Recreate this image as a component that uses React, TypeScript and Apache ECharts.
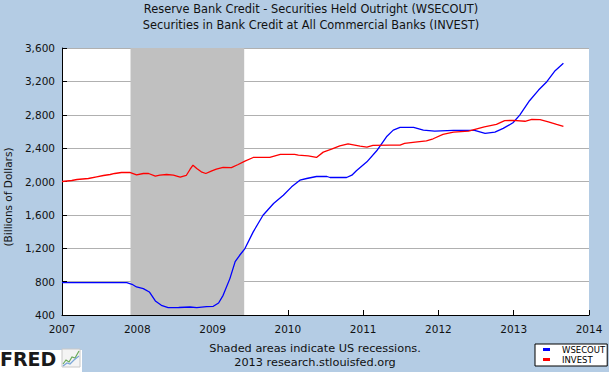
import React, { useEffect, useRef } from "react";
import * as echarts from "echarts";

// Decimal-year dates and values (Billions of Dollars)
const wsecoutDates = [
  2007.0, 2007.86, 2007.93, 2007.99, 2008.08, 2008.16, 2008.24, 2008.32, 2008.41, 2008.55,
  2008.7, 2008.79, 2008.92, 2009.01, 2009.08, 2009.14, 2009.23, 2009.3, 2009.36, 2009.43,
  2009.54, 2009.67, 2009.81, 2009.94, 2010.05, 2010.16, 2010.25, 2010.38, 2010.52, 2010.56,
  2010.78, 2010.85, 2010.91, 2011.05, 2011.18, 2011.31, 2011.4, 2011.49, 2011.67, 2011.8,
  2011.95, 2012.2, 2012.48, 2012.62, 2012.75, 2012.86, 2012.99, 2013.08, 2013.21, 2013.33,
  2013.44, 2013.55, 2013.66,
];
const wsecoutValues = [
  788, 788, 768, 736, 716, 676, 568, 516, 488, 490,
  496, 488, 500, 504, 544, 636, 836, 1040, 1116, 1196,
  1396, 1596, 1736, 1836, 1936, 2016, 2036, 2060, 2060, 2048,
  2048, 2076, 2128, 2236, 2368, 2536, 2616, 2648, 2648, 2616,
  2604, 2612, 2612, 2576, 2592, 2636, 2704, 2796, 2968, 3096,
  3196, 3328, 3416,
];

const investDates = [
  2007.0, 2007.13, 2007.2, 2007.35, 2007.46, 2007.55, 2007.64, 2007.7, 2007.79, 2007.9,
  2007.99, 2008.08, 2008.15, 2008.24, 2008.3, 2008.39, 2008.48, 2008.57, 2008.65, 2008.7,
  2008.74, 2008.79, 2008.85, 2008.91, 2008.99, 2009.05, 2009.14, 2009.25, 2009.34, 2009.43,
  2009.54, 2009.76, 2009.9, 2010.09, 2010.14, 2010.27, 2010.38, 2010.47, 2010.58, 2010.69,
  2010.8, 2010.87, 2010.96, 2011.05, 2011.13, 2011.36, 2011.49, 2011.55, 2011.69, 2011.84,
  2011.93, 2012.06, 2012.2, 2012.4, 2012.51, 2012.61, 2012.77, 2012.88, 2012.99, 2013.15,
  2013.24, 2013.35, 2013.46, 2013.57, 2013.66,
];
const investValues = [
  2000, 2012, 2024, 2036, 2056, 2072, 2084, 2096, 2108, 2108,
  2080, 2096, 2096, 2064, 2076, 2084, 2076, 2052, 2072, 2144,
  2196, 2156, 2116, 2096, 2128, 2148, 2168, 2166, 2204, 2244,
  2288, 2288, 2324, 2324, 2316, 2308, 2288, 2352, 2388, 2428,
  2452, 2440, 2424, 2412, 2432, 2436, 2436, 2456, 2472, 2488,
  2512, 2564, 2592, 2604, 2632, 2656, 2684, 2730, 2732, 2722,
  2744, 2742, 2716, 2684, 2660,
];

const recession = [2007.91, 2009.42];
const yearTicks = [2007, 2014];
const yTicks = [400, 3600, 400];

const titleLines = [
  "Reserve Bank Credit - Securities Held Outright (WSECOUT)",
  "Securities in Bank Credit at All Commercial Banks (INVEST)",
];
const footLines = ["Shaded areas indicate US recessions.", "2013 research.stlouisfed.org"];

const FONT = "DejaVu Sans";

export default function App() {
  const ref = useRef<HTMLDivElement>(null);
  useEffect(() => {
    document.body.style.margin = "0";
    const chart = echarts.init(ref.current!, null, { renderer: "svg" });
    const zip = (xs: number[], ys: number[]) => xs.map((x, i) => [x, ys[i]]);
    const txt = (text: string, x: number, y: number, size: number) => ({
      type: "text",
      x,
      y,
      style: { text, fontSize: size, fontFamily: FONT, fill: "#111", align: "center", verticalAlign: "middle" },
    });
    chart.setOption({
      animation: false,
      backgroundColor: "#b4cce4",
      textStyle: { fontFamily: FONT },
      grid: { left: 62, top: 48, right: 20, bottom: 57, backgroundColor: "#fff", show: true, borderWidth: 0 },
      legend: {
        orient: "vertical",
        left: 535,
        top: 344,
        data: ["WSECOUT", "INVEST"],
        icon: "rect",
        itemWidth: 7,
        itemHeight: 3,
        itemGap: 1,
        backgroundColor: "#fff",
        borderColor: "#000",
        borderWidth: 1,
        borderRadius: 0,
        padding: [1, 2, 2, 8],
        textStyle: { fontSize: 8.5, color: "#000", fontFamily: FONT, padding: [0, 0, 0, 7] },
      },
      xAxis: {
        type: "value",
        min: yearTicks[0],
        max: yearTicks[1],
        interval: 1,
        axisLine: { lineStyle: { color: "#000", width: 1 } },
        axisTick: { inside: true, length: 5, lineStyle: { color: "#000" } },
        axisLabel: { color: "#111", fontSize: 10.5, margin: 8, formatter: (v: number) => String(v) },
        splitLine: { show: false },
      },
      yAxis: {
        type: "value",
        min: yTicks[0],
        max: yTicks[1],
        interval: yTicks[2],
        axisLine: { show: true, lineStyle: { color: "#000", width: 1 } },
        axisTick: { show: true, inside: true, length: 5, lineStyle: { color: "#000" } },
        axisLabel: {
          color: "#111",
          fontSize: 10.5,
          margin: 7,
          formatter: (v: number) => v.toLocaleString("en-US"),
        },
        splitLine: { lineStyle: { color: "#b0b0b0", width: 1 } },
      },
      graphic: [
        txt(titleLines[0], 311, 9, 11.4),
        txt(titleLines[1], 311, 25, 11.4),
        {
          type: "text",
          x: 8,
          y: 197,
          rotation: Math.PI / 2,
          style: {
            text: "(Billions of Dollars)",
            fontSize: 10.5,
            fontFamily: FONT,
            fill: "#111",
            align: "center",
            verticalAlign: "middle",
          },
        },
        txt(footLines[0], 315, 348, 11.3),
        txt(footLines[1], 315, 362, 11.3),
        { type: "rect", shape: { x: 0, y: 350, width: 82, height: 22 }, style: { fill: "#fff" } },
        {
          type: "text",
          x: 0,
          y: 359,
          style: {
            text: "FRED",
            fontSize: 19,
            fontWeight: 900,
            fontFamily: "DejaVu Sans",
            fill: "#1a1a1a",
            align: "left",
            verticalAlign: "middle",
          },
        },
        { type: "rect", shape: { x: 62, y: 349, width: 18, height: 18 }, style: { fill: "#f4f4f4", stroke: "#c8c8c8", lineWidth: 1 } },
        {
          type: "polyline",
          shape: { points: [[63, 364], [66, 360], [69, 362], [72, 357], [75, 358], [79, 351]] },
          style: { stroke: "#6aaa5a", lineWidth: 1.2, fill: "none" },
        },
        {
          type: "polyline",
          shape: { points: [[63, 366], [67, 363], [70, 364], [74, 360], [79, 356]] },
          style: { stroke: "#7aa6d8", lineWidth: 1.2, fill: "none" },
        },
      ],
      series: [
        {
          name: "WSECOUT",
          type: "line",
          data: zip(wsecoutDates, wsecoutValues),
          showSymbol: false,
          symbol: "none",
          lineStyle: { color: "#0000ff", width: 1.3 },
          itemStyle: { color: "#0000ff" },
          z: 3,
          markArea: {
            silent: true,
            itemStyle: { color: "#c0c0c0", opacity: 1 },
            data: [[{ xAxis: recession[0] }, { xAxis: recession[1] }]],
          },
        },
        {
          name: "INVEST",
          type: "line",
          data: zip(investDates, investValues),
          showSymbol: false,
          symbol: "none",
          lineStyle: { color: "#ff0000", width: 1.3 },
          itemStyle: { color: "#ff0000" },
          z: 4,
        },
      ],
    });
    return () => chart.dispose();
  }, []);
  return <div ref={ref} style={{ position: "fixed", left: 0, top: 0, width: 609, height: 372 }} />;
}
